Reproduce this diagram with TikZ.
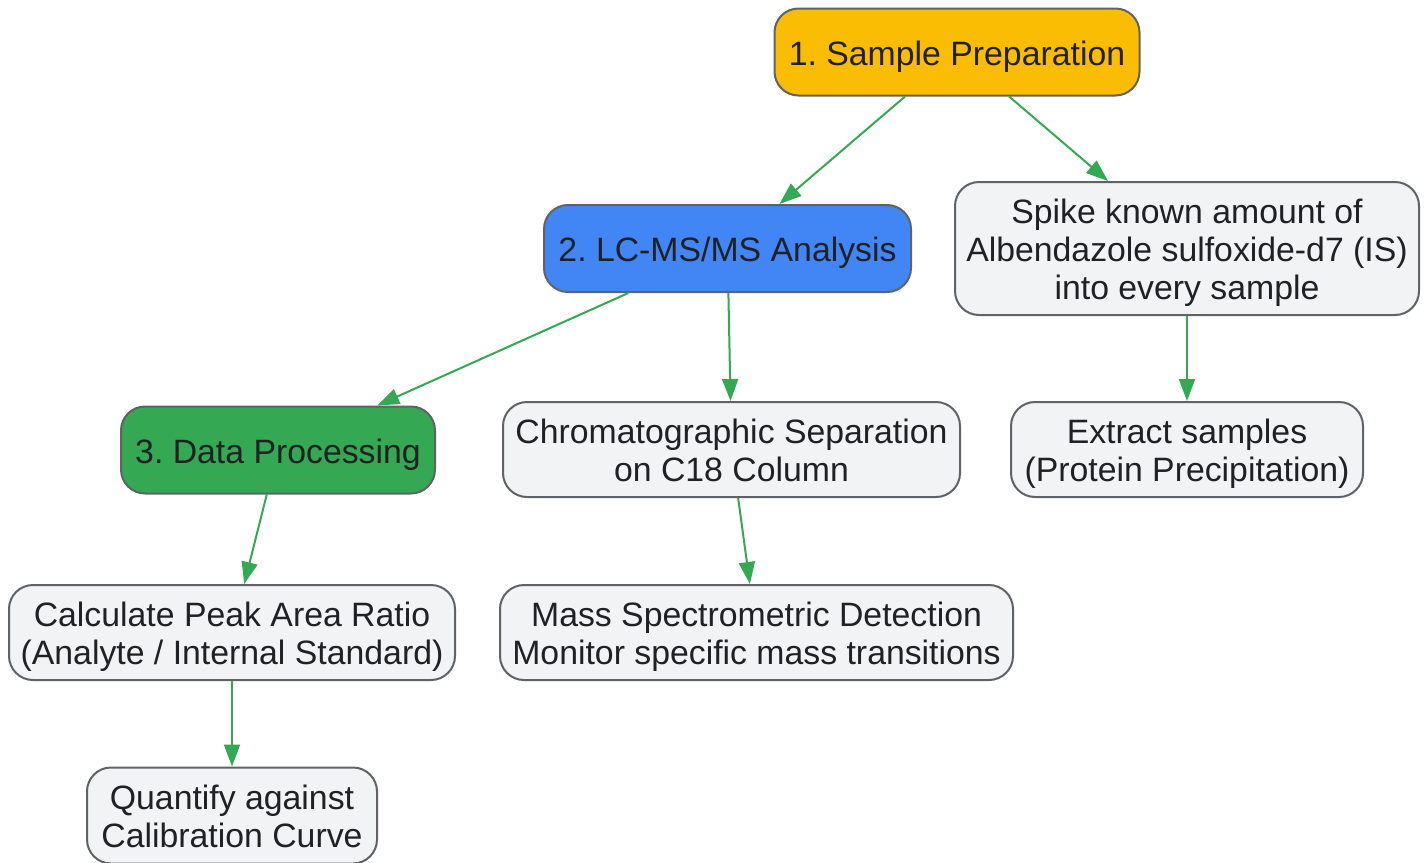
\documentclass[tikz,border=0pt]{standalone}
\usepackage{fontspec}
\setmainfont{Liberation Sans}
\usepackage{tikz}
\usetikzlibrary{arrows.meta}

\definecolor{stepyellow}{HTML}{FBBC04}
\definecolor{stepblue}{HTML}{4285F4}
\definecolor{stepgreen}{HTML}{34A853}
\definecolor{boxgray}{HTML}{F1F3F4}
\definecolor{edgegray}{HTML}{5F6368}
\definecolor{textdark}{HTML}{202124}

\begin{document}
\begin{tikzpicture}[x=0.5pt,y=-0.5pt,
    box/.style={draw=edgegray,line width=1pt,rounded corners=12pt,fill=boxgray,
      align=center,text=textdark,inner sep=0pt,
      font=\fontsize{16.9pt}{19pt}\selectfont\frenchspacing,
      text height=16.6pt,text depth=3.6pt},
    twolines/.style={text height=35.6pt},
    threelines/.style={text height=54.6pt},
    link/.style={draw=stepgreen,line width=1pt,-{Triangle[length=11pt,width=8pt]}}]
    \useasboundingbox (0,0) rectangle (1428,862);

    % main steps
    \node[box,fill=stepyellow,minimum width=182.5pt,minimum height=43.5pt]
      (prep) at (957,52) {1. Sample Preparation};
    \node[box,fill=stepblue,minimum width=183.5pt,minimum height=43.5pt]
      (lcms) at (727.5,248.5) {2. LC-MS/MS Analysis};
    \node[box,fill=stepgreen,minimum width=157pt,minimum height=43.5pt]
      (data) at (278,450) {3. Data Processing};

    % sub steps
    \node[box,threelines,minimum width=232pt,minimum height=66.5pt]
      (spike) at (1187,248.5) {Spike known amount of\\Albendazole sulfoxide-d7 (IS)\\into every sample};
    \node[box,twolines,minimum width=176pt,minimum height=47.5pt]
      (extract) at (1187,449.5) {Extract samples\\(Protein Precipitation)};
    \node[box,twolines,minimum width=228.5pt,minimum height=47.5pt]
      (chrom) at (731.5,449.5) {Chromatographic Separation\\on C18 Column};
    \node[box,twolines,minimum width=256.5pt,minimum height=47.5pt]
      (mass) at (756.5,632.5) {Mass Spectrometric Detection\\Monitor specific mass transitions};
    \node[box,twolines,minimum width=223pt,minimum height=47.5pt]
      (ratio) at (232,632.5) {Calculate Peak Area Ratio\\(Analyte / Internal Standard)};
    \node[box,twolines,minimum width=145pt,minimum height=48pt]
      (quant) at (232,815.5) {Quantify against\\Calibration Curve};

    \draw[link] (prep) -- (lcms);
    \draw[link] (prep) -- (spike);
    \draw[link] (spike) -- (extract);
    \draw[link] (lcms) -- (data);
    \draw[link] (lcms) -- (chrom);
    \draw[link] (chrom) -- (mass);
    \draw[link] (data) -- (ratio);
    \draw[link] (ratio) -- (quant);
\end{tikzpicture}
\end{document}
